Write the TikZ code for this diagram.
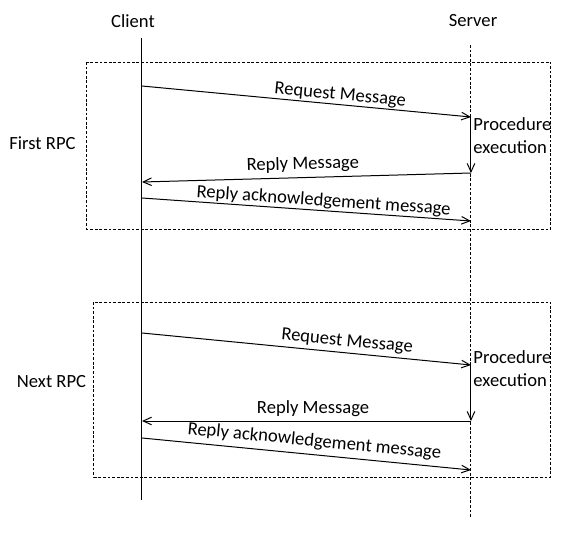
\documentclass[tikz,border=0pt]{standalone}
\usepackage{fontspec}
\setmainfont{Carlito}
\usetikzlibrary{arrows.meta}
\tikzset{>={Straight Barb[length=4.2pt,width=3.8pt]}}
\tikzset{msg/.style = {sloped, above, inner sep = 0.5pt}}
\tikzset{dots/.style = {dash pattern = on 1.4pt off 0.9pt}}

\begin{document}
\begin{tikzpicture}[x = 0.5pt, y = -0.5pt, line width = 0.5pt,
  every node/.style = {font = \fontsize{9.3}{11.4}\selectfont}]

\useasboundingbox (0,0) rectangle (570,536);

% lifelines
\node (client) at (133,21) {Client};
\node (server) at (473,21) {Server};
\coordinate (c0) at (142,38);
\coordinate (c1) at (142,500);
\coordinate (s0) at (471,45);
\coordinate (s1) at (471,517);
\draw (c0) -- (c1);
\draw[dots] (s0) -- (s1);

% first RPC
\draw[dots] (87,62) rectangle (551,229);
\node (first) at (42.5,143) {First RPC};
\coordinate (req1a) at (142,86);
\coordinate (req1b) at (471,117);
\coordinate (rep1a) at (471,173);
\coordinate (rep1b) at (142,182);
\coordinate (ack1a) at (142,198);
\coordinate (ack1b) at (471,221);
\draw[->] (req1a) -- (req1b) node[msg, pos = 0.6] {Request Message};
\draw[->] (req1b) -- (rep1a);
\draw[->] (rep1a) -- (rep1b) node[msg, pos = 0.51, above = 1.8pt] {Reply Message};
\draw[->] (ack1a) -- (ack1b) node[msg, pos = 0.55] {Reply acknowledgement message};
\node[anchor = west, align = left, inner sep = 0pt] (proc1) at (473,136) {Procedure\\execution};

% next RPC
\draw[dots] (94,302) rectangle (551,477);
\node (next) at (51.5,382) {Next RPC};
\coordinate (req2a) at (142,333);
\coordinate (req2b) at (471,365);
\coordinate (rep2a) at (471,421);
\coordinate (rep2b) at (142,421);
\coordinate (ack2a) at (142,438);
\coordinate (ack2b) at (471,470);
\draw[->] (req2a) -- (req2b) node[msg, pos = 0.62, above = 1pt] {Request Message};
\draw[->] (req2b) -- (rep2a);
\draw[->] (rep2a) -- (rep2b) node[msg, pos = 0.48, above = 1.5pt] {Reply Message};
\draw[->] (ack2a) -- (ack2b) node[msg, pos = 0.52, above = 1.8pt] {Reply acknowledgement message};
\node[anchor = west, align = left, inner sep = 0pt] (proc2) at (473,369) {Procedure\\execution};

\end{tikzpicture}
\end{document}
